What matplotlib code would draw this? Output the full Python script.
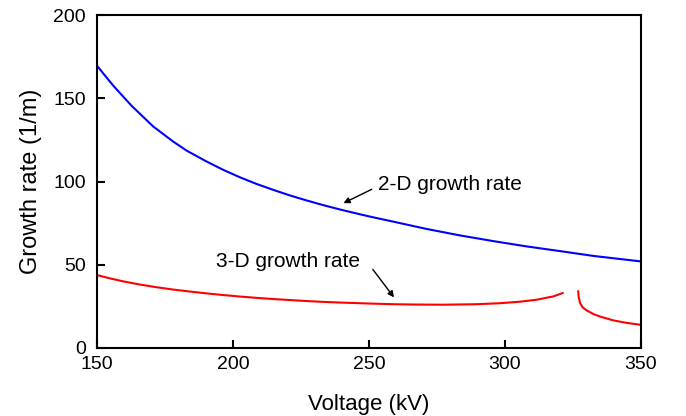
import matplotlib
matplotlib.use("Agg")
import matplotlib.pyplot as plt

plt.rcParams['font.family'] = ['Liberation Sans', 'DejaVu Sans']

# 2-D growth rate (blue)
v_2d = [150, 156, 162.7, 170.7, 178, 183, 190.3, 196.4, 202.6, 208.7, 216, 221,
        227.1, 233.2, 239.3, 246.7, 250.4, 258.9, 271.2, 283.5, 295.7, 308,
        320.2, 332.5, 350]
g_2d = [169.5, 157.5, 145.5, 133, 124, 118.5, 112, 107, 102.5, 98.5, 94.3, 91.6,
        88.6, 85.8, 83.2, 80.3, 78.9, 75.9, 71.5, 67.6, 64.2, 61.0,
        58.2, 55.3, 52.0]

# 3-D growth rate (red), two branches with a gap near 324 kV
v_3d_a = [150, 154.8, 159.7, 165.8, 171.9, 178, 184.2, 190.3, 196.4, 202.6,
          208.7, 214.8, 221, 227.1, 233.2, 239.3, 250.4, 258.9, 267.5, 277.3,
          289.6, 298.2, 305.5, 311.6, 317.8, 321.2]
g_3d_a = [43.8, 41.8, 40.0, 38.1, 36.5, 35.1, 33.9, 32.8, 31.8, 30.9,
          30.1, 29.4, 28.8, 28.2, 27.7, 27.3, 26.7, 26.3, 26.1, 26.0,
          26.3, 26.9, 27.8, 29.0, 31.0, 33.0]
v_3d_b = [326.9, 327.1, 327.6, 328.5, 330, 332.5, 334.9, 339.8, 344.7, 350]
g_3d_b = [34.0, 30.5, 27.0, 24.5, 22.6, 20.4, 18.9, 16.6, 15.1, 13.9]

fig = plt.figure(figsize=(6.86, 4.16), dpi=100)
ax = fig.add_axes([97/686, 1 - 348/416, 544/686, 333/416])

ax.plot(v_2d, g_2d, color='#0000ff', lw=1.5)
ax.plot(v_3d_a, g_3d_a, color='#ff0000', lw=1.5)
ax.plot(v_3d_b, g_3d_b, color='#ff0000', lw=1.5)

arrow = dict(arrowstyle='-|>', color='black', lw=1, mutation_scale=9,
             shrinkA=0, shrinkB=0)
ax.annotate('', xy=(240.6, 87), xytext=(251, 95.3), arrowprops=arrow)
ax.annotate('', xy=(259.2, 30.4), xytext=(251.4, 47.2), arrowprops=arrow)
ax.text(253.3, 97.9, '2-D growth rate', fontsize=15, va='center', ha='left')
ax.text(193.6, 52.0, '3-D growth rate', fontsize=15, va='center', ha='left')

ax.set_xlim(150, 350)
ax.set_ylim(0, 200)
ax.set_xticks([150, 200, 250, 300, 350])
ax.set_yticks([0, 50, 100, 150, 200])
ax.tick_params(direction='in', length=6, width=1.5, labelsize=14)
ax.tick_params(axis='x', pad=6)
ax.tick_params(axis='y', pad=8)
for s in ax.spines.values():
    s.set_linewidth(1.5)

ax.set_xlabel('Voltage (kV)', fontsize=16, labelpad=15)
ax.set_ylabel('Growth rate (1/m)', fontsize=17, labelpad=8)

fig.savefig('out.png', dpi=100)
